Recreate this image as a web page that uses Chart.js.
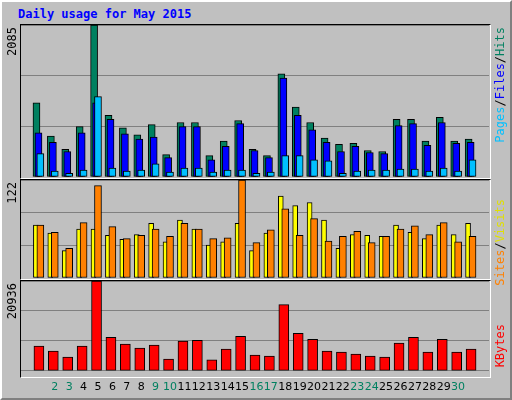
<!DOCTYPE html>
<html>
<head>
<meta charset="utf-8">
<script src="https://cdn.jsdelivr.net/npm/chart.js@4"></script>
<style>
body { margin:0; background:#fff; }
#frame { position:absolute; left:0; top:0; width:508px; height:396px; background:#c0c0c0;
  border-top:2px solid #fff; border-left:2px solid #fff; border-right:2px solid #808080; border-bottom:2px solid #808080; }
.title { position:absolute; left:18px; top:7px; font:bold 12px "DejaVu Sans Mono", monospace; color:#0000ff; }
.box { position:absolute; left:21px; width:468px; }
.edge { position:absolute; left:20px; width:469px; border-top:1px solid #000; border-left:1px solid #000;
  border-right:1px solid #fff; border-bottom:1px solid #fff; pointer-events:none; }
.vt { position:absolute; writing-mode:vertical-rl; transform:rotate(180deg); font:12px "DejaVu Sans Mono", monospace; white-space:nowrap; }
</style>
</head>
<body>
<div id="frame"></div>
<div class="title">Daily usage for May 2015</div>

<div class="box" style="top:25px;height:152px"><canvas id="c1"></canvas></div>
<div class="box" style="top:180px;height:98px"><canvas id="c2"></canvas></div>
<div class="box" style="top:281px;height:115px"><canvas id="c3"></canvas></div>
<div class="edge" style="top:24px;height:153px"></div>
<div class="edge" style="top:179px;height:99px"></div>
<div class="edge" style="top:280px;height:96px"></div>

<div class="vt" style="left:5px;top:27px;color:#000">2085</div>
<div class="vt" style="left:5px;top:182px;color:#000">122</div>
<div class="vt" style="left:5px;top:283px;color:#000">20936</div>
<div class="vt" style="left:493px;top:27px"><span style="color:#00c0ff">Pages</span><span style="color:#000">/</span><span style="color:#0000ff">Files</span><span style="color:#000">/</span><span style="color:#008060">Hits</span></div>
<div class="vt" style="left:493px;top:199px"><span style="color:#ff8000">Sites</span><span style="color:#000">/</span><span style="color:#e0e000">Visits</span></div>
<div class="vt" style="left:493px;top:324px;color:#ff0000">KBytes</div>

<script>
const days = Array.from({length: 31}, (_, i) => i + 1);
const weekend = [2, 3, 9, 10, 16, 17, 23, 24, 30, 31];
const hits = [1017,563,378,690,2085,846,676,577,719,307,747,747,293,492,775,378,293,1414,960,747,534,449,463,364,350,790,790,492,818,492,520];
const files = [605,477,350,605,1017,790,591,520,548,265,690,690,236,421,733,364,265,1357,846,648,477,350,421,336,321,704,733,435,747,463,477];
const pages = [321,80,52,95,1102,123,80,95,180,66,123,123,66,95,95,52,66,293,293,236,222,52,80,95,95,109,109,80,123,80,236];
const sites = [66,56,34,61,61,53,48,54,68,45,72,61,41,45,68,34,56,102,90,94,72,37,54,53,52,66,57,49,66,54,68];
const visits = [66,57,37,69,115,64,49,53,61,52,68,61,49,50,122,44,60,86,53,74,46,52,58,44,52,61,65,54,69,45,52];
const kbytes = [5750,4600,3220,5750,20936,7820,6210,5290,5980,2760,6900,7130,2530,5060,8050,3680,3450,15420,8740,7360,4600,4370,3910,3450,3220,6440,7820,4370,7360,4370,5060];
const maxes = [2085, 122, 20936];

const pts = (arr, shift) => arr.map((v, i) => ({x: days[i] + shift, y: v}));

function set(label, arr, shift, color, width, order) {
    return { label: label, data: pts(arr, shift), backgroundColor: color, borderColor: '#000',
             borderWidth: 1, barThickness: width, grouped: false, order: order, borderSkipped: false };
}

function opts(max, showX) {
    return {
        responsive: true, maintainAspectRatio: false, animation: false,
        layout: { padding: 0 },
        plugins: { legend: { display: false }, tooltip: { enabled: false } },
        scales: {
            x: { type: 'linear', min: 0.18, max: 31.62, display: showX,
                 grid: { display: false }, border: { display: false },
                 ticks: { stepSize: 1, autoSkip: false, maxRotation: 0, padding: 2,
                          font: { family: 'DejaVu Sans', size: 11 },
                          color: c => weekend.includes(c.tick.value) ? '#008060' : '#000',
                          callback: v => Number.isInteger(v) && v >= 1 && v <= 31 ? String(v) : '' } },
            y: { min: 0, max: max, afterBuildTicks: a => { a.ticks = [0, max / 3, max * 2 / 3, max].map(v => ({value: v})); },
                 ticks: { display: false }, border: { display: false },
                 grid: { color: '#808080', drawTicks: false } }
        }
    };
}

new Chart(document.getElementById('c1'), {
    type: 'bar',
    data: { datasets: [
        set('Pages', pages, 0.0, '#00c0ff', 7, 0),
        set('Files', files, -0.13, '#0000ff', 7, 1),
        set('Hits', hits, -0.27, '#008060', 7, 2)
    ] },
    options: opts(maxes[0], false)
});

new Chart(document.getElementById('c2'), {
    type: 'bar',
    data: { datasets: [
        set('Visits', visits, 0.0, '#ff8000', 7, 0),
        set('Sites', sites, -0.31, '#ffff00', 5, 1)
    ] },
    options: opts(maxes[1], false)
});

const o3 = opts(maxes[2], true);
new Chart(document.getElementById('c3'), {
    type: 'bar',
    data: { datasets: [ set('KBytes', kbytes, -0.1, '#ff0000', 10, 0) ] },
    options: o3
});
</script>
</body>
</html>
